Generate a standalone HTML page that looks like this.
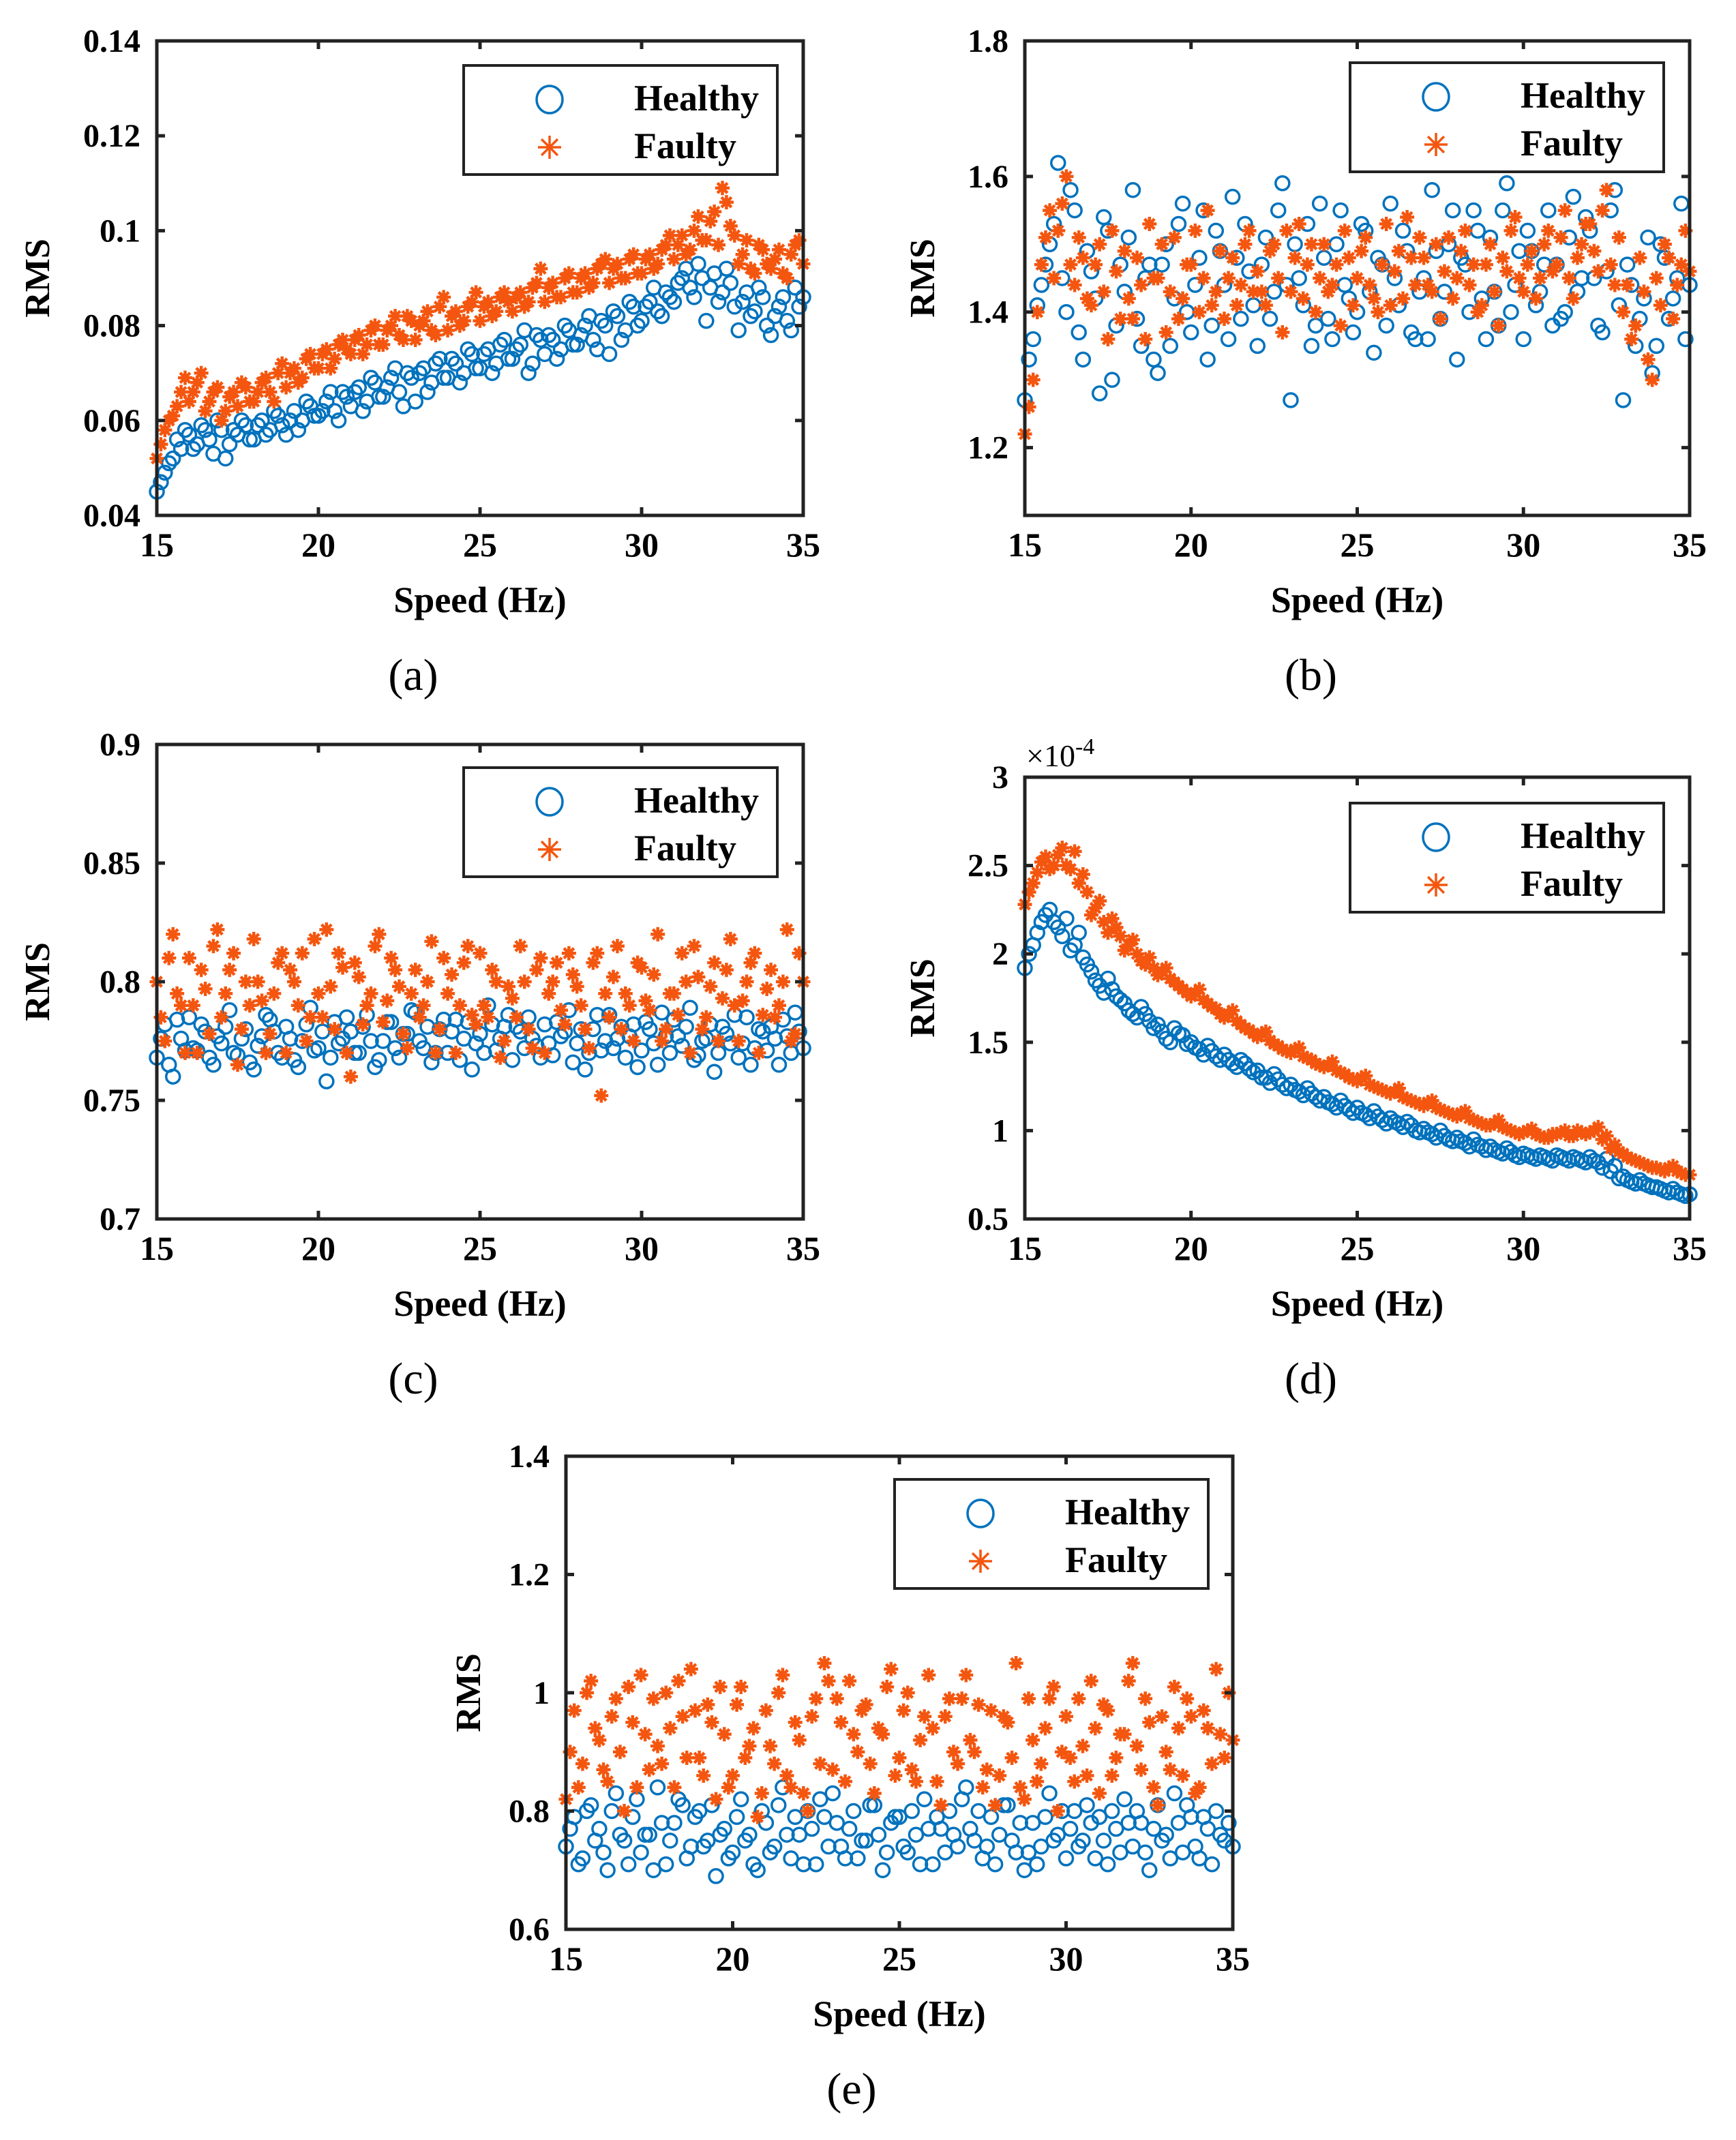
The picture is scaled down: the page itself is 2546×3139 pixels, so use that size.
<!DOCTYPE html>
<html><head><meta charset="utf-8"><style>
html,body{margin:0;padding:0;background:#fff;}
svg{display:block;}
text{font-family:"Liberation Serif",serif;}
</style></head><body>
<svg id="fig" width="2546" height="3139" viewBox="0 0 2546 3139" xmlns="http://www.w3.org/2000/svg"></svg>
<script>
// ---------- data ----------
// pass 1 samples at x = 15 + i*0.25 ; pass 2 samples at x = 15.125 + i*0.25
const speedStart = 15, speedStep = 0.25, speedStart2 = 15.125;
const xTicks = [15,20,25,30,35];

const aTicks = [0.04,0.06,0.08,0.1,0.12,0.14];
const aTickLabels = ["0.04","0.06","0.08","0.1","0.12","0.14"];
const aHealthy = [.045,.049,.052,.054,.057,.055,.058,.053,.058,.055,.057,.059,.056,.060,.058,.061,.057,.062,.060,.063,.061,.064,.062,.066,.063,.067,.064,.068,.065,.069,.066,.070,.064,.071,.068,.073,.069,.072,.070,.074,.071,.075,.072,.077,.073,.076,.070,.078,.074,.077,.075,.079,.076,.080,.077,.081,.074,.082,.079,.084,.081,.085,.083,.087,.085,.090,.088,.093,.081,.091,.087,.089,.079,.087,.083,.086,.078,.084,.081,.088,.086];
const aHealthy2 = [.047,.051,.056,.058,.054,.059,.056,.060,.052,.058,.060,.056,.059,.057,.062,.059,.060,.058,.064,.061,.062,.066,.060,.065,.066,.062,.069,.065,.067,.071,.063,.069,.070,.066,.072,.069,.073,.068,.075,.071,.074,.070,.076,.073,.075,.079,.072,.077,.078,.073,.080,.076,.078,.082,.075,.080,.083,.077,.085,.080,.084,.088,.082,.086,.089,.092,.086,.090,.088,.085,.092,.084,.085,.082,.088,.080,.082,.086,.079,.084];
const aFaulty = [.052,.058,.061,.066,.064,.068,.062,.066,.060,.065,.063,.067,.064,.068,.066,.070,.067,.071,.069,.074,.071,.075,.073,.077,.074,.078,.076,.080,.076,.080,.078,.082,.077,.081,.079,.084,.079,.083,.081,.085,.081,.085,.083,.087,.083,.087,.085,.089,.085,.089,.086,.091,.087,.091,.089,.093,.089,.093,.090,.095,.091,.095,.093,.097,.094,.099,.096,.103,.098,.104,.109,.101,.093,.098,.091,.096,.092,.096,.090,.097,.093];
const aFaulty2 = [.055,.060,.063,.069,.066,.070,.064,.067,.062,.066,.068,.064,.066,.069,.064,.072,.070,.068,.073,.071,.074,.071,.076,.075,.077,.074,.079,.076,.079,.082,.077,.081,.080,.083,.078,.086,.082,.080,.084,.087,.084,.082,.086,.085,.086,.084,.088,.092,.088,.086,.090,.087,.090,.088,.092,.094,.092,.090,.094,.091,.094,.092,.096,.099,.097,.095,.100,.098,.102,.097,.106,.099,.095,.092,.097,.093,.094,.091,.095,.098];

const bTicks = [1.2,1.4,1.6,1.8];
const bTickLabels = ["1.2","1.4","1.6","1.8"];
const bHealthy = [1.27,1.36,1.44,1.50,1.62,1.40,1.55,1.33,1.46,1.28,1.52,1.38,1.43,1.58,1.35,1.47,1.31,1.50,1.42,1.56,1.37,1.48,1.33,1.52,1.44,1.57,1.39,1.46,1.35,1.51,1.43,1.59,1.27,1.45,1.53,1.38,1.48,1.36,1.55,1.42,1.40,1.52,1.34,1.47,1.56,1.41,1.49,1.36,1.45,1.58,1.39,1.50,1.33,1.47,1.55,1.42,1.51,1.38,1.59,1.44,1.36,1.49,1.43,1.55,1.47,1.40,1.57,1.45,1.52,1.38,1.46,1.58,1.27,1.44,1.39,1.51,1.35,1.48,1.42,1.56,1.44];
const bHealthy2 = [1.33,1.41,1.47,1.53,1.45,1.58,1.37,1.49,1.42,1.54,1.30,1.47,1.51,1.39,1.45,1.33,1.47,1.35,1.53,1.40,1.44,1.55,1.38,1.49,1.36,1.48,1.53,1.41,1.47,1.39,1.55,1.44,1.50,1.41,1.35,1.56,1.39,1.50,1.44,1.37,1.53,1.43,1.48,1.38,1.45,1.52,1.37,1.43,1.36,1.49,1.43,1.55,1.48,1.40,1.52,1.36,1.43,1.55,1.40,1.49,1.52,1.41,1.47,1.38,1.39,1.51,1.43,1.54,1.45,1.37,1.55,1.41,1.47,1.35,1.42,1.31,1.50,1.39,1.45,1.36];
const bFaulty = [1.22,1.30,1.47,1.55,1.52,1.60,1.44,1.48,1.41,1.50,1.36,1.46,1.49,1.39,1.44,1.53,1.45,1.37,1.51,1.42,1.47,1.40,1.55,1.43,1.39,1.48,1.44,1.52,1.46,1.41,1.50,1.37,1.43,1.53,1.47,1.40,1.50,1.44,1.38,1.48,1.45,1.51,1.42,1.47,1.41,1.49,1.54,1.44,1.48,1.43,1.39,1.51,1.45,1.52,1.47,1.41,1.50,1.38,1.46,1.54,1.43,1.49,1.45,1.52,1.47,1.55,1.42,1.50,1.53,1.46,1.58,1.44,1.40,1.36,1.48,1.33,1.45,1.50,1.39,1.47,1.46];
const bFaulty2 = [1.26,1.40,1.51,1.45,1.56,1.47,1.51,1.42,1.47,1.43,1.52,1.39,1.42,1.48,1.36,1.45,1.50,1.43,1.39,1.47,1.52,1.45,1.41,1.49,1.45,1.41,1.50,1.43,1.43,1.49,1.45,1.52,1.48,1.42,1.50,1.45,1.43,1.47,1.52,1.41,1.49,1.44,1.40,1.53,1.46,1.42,1.48,1.51,1.44,1.50,1.46,1.42,1.49,1.44,1.40,1.47,1.43,1.48,1.52,1.45,1.47,1.42,1.50,1.46,1.51,1.45,1.48,1.53,1.49,1.55,1.47,1.51,1.44,1.38,1.43,1.30,1.41,1.48,1.44,1.52];

const cTicks = [0.7,0.75,0.8,0.85,0.9];
const cTickLabels = ["0.7","0.75","0.8","0.85","0.9"];
const cHealthy = [.768,.782,.760,.776,.785,.771,.779,.765,.774,.788,.769,.780,.763,.777,.784,.770,.781,.767,.775,.789,.772,.758,.783,.776,.779,.770,.786,.764,.775,.783,.768,.778,.787,.772,.766,.780,.770,.784,.776,.763,.778,.790,.771,.781,.767,.779,.785,.773,.782,.769,.777,.788,.774,.763,.780,.771,.786,.776,.768,.782,.771,.780,.765,.777,.784,.773,.789,.769,.776,.762,.781,.774,.768,.785,.772,.779,.781,.765,.777,.787,.772];
const cHealthy2 = [.776,.765,.784,.771,.772,.782,.768,.777,.781,.770,.776,.766,.773,.786,.779,.768,.776,.764,.782,.771,.779,.768,.774,.785,.770,.781,.775,.767,.783,.772,.778,.788,.775,.781,.770,.784,.779,.767,.783,.774,.770,.782,.776,.786,.781,.772,.776,.768,.774,.783,.779,.766,.780,.770,.786,.775,.772,.781,.777,.764,.783,.774,.787,.770,.777,.781,.767,.775,.782,.770,.778,.786,.774,.765,.780,.771,.776,.784,.770,.779];
const cFaulty = [.800,.775,.820,.790,.810,.770,.797,.815,.785,.805,.765,.800,.818,.792,.778,.808,.770,.800,.812,.785,.795,.822,.780,.806,.760,.802,.790,.815,.783,.810,.798,.772,.805,.790,.817,.780,.795,.770,.808,.786,.812,.785,.800,.775,.793,.815,.780,.805,.770,.800,.788,.812,.798,.780,.808,.752,.785,.815,.795,.775,.806,.788,.820,.780,.795,.812,.770,.802,.785,.808,.793,.818,.775,.800,.812,.786,.805,.790,.822,.778,.800];
const cFaulty2 = [.785,.810,.795,.770,.790,.805,.778,.822,.795,.812,.780,.790,.800,.770,.795,.812,.805,.790,.775,.818,.785,.798,.812,.770,.808,.782,.795,.820,.792,.805,.778,.795,.785,.800,.770,.810,.803,.790,.815,.782,.790,.805,.768,.798,.785,.800,.772,.810,.795,.808,.782,.803,.790,.772,.812,.795,.802,.780,.790,.808,.792,.803,.775,.795,.786,.800,.815,.780,.798,.775,.805,.790,.792,.808,.770,.797,.785,.800,.775,.812];

const dTicks = [0.5,1,1.5,2,2.5,3];
const dTickLabels = ["0.5","1","1.5","2","2.5","3"];
const dHealthy = [1.92,2.05,2.18,2.25,2.15,2.20,2.05,1.98,1.90,1.82,1.86,1.76,1.72,1.66,1.70,1.62,1.60,1.52,1.58,1.54,1.50,1.46,1.48,1.42,1.43,1.38,1.40,1.35,1.34,1.30,1.32,1.26,1.26,1.22,1.24,1.19,1.19,1.15,1.17,1.12,1.13,1.09,1.11,1.06,1.07,1.04,1.05,1.00,1.01,0.98,1.00,0.95,0.96,0.93,0.95,0.91,0.91,0.88,0.90,0.86,0.87,0.85,0.86,0.84,0.86,0.84,0.85,0.83,0.85,0.82,0.84,0.80,0.74,0.71,0.72,0.69,0.68,0.66,0.67,0.64,0.64];
const dHealthy2 = [2.00,2.12,2.22,2.18,2.10,2.02,2.12,1.94,1.85,1.78,1.80,1.74,1.68,1.64,1.66,1.58,1.56,1.50,1.55,1.49,1.47,1.43,1.45,1.40,1.40,1.36,1.38,1.33,1.30,1.27,1.29,1.24,1.23,1.20,1.21,1.17,1.16,1.13,1.14,1.10,1.10,1.07,1.08,1.04,1.05,1.02,1.03,0.99,0.99,0.96,0.97,0.94,0.94,0.91,0.92,0.89,0.89,0.87,0.88,0.85,0.86,0.84,0.85,0.83,0.85,0.83,0.84,0.82,0.83,0.79,0.77,0.73,0.72,0.70,0.70,0.68,0.67,0.65,0.65,0.63];
const dFaulty = [2.28,2.40,2.52,2.48,2.56,2.50,2.58,2.45,2.22,2.30,2.12,2.15,2.02,2.08,1.96,1.98,1.88,1.92,1.84,1.80,1.76,1.80,1.72,1.69,1.64,1.68,1.60,1.57,1.53,1.56,1.49,1.46,1.44,1.47,1.41,1.38,1.36,1.39,1.33,1.30,1.28,1.31,1.25,1.23,1.21,1.24,1.18,1.16,1.14,1.17,1.12,1.10,1.08,1.11,1.06,1.04,1.03,1.06,1.01,0.99,0.99,1.01,0.97,0.96,0.98,1.00,0.97,0.99,0.99,1.02,0.97,0.92,0.87,0.84,0.82,0.80,0.79,0.77,0.80,0.76,0.75];
const dFaulty2 = [2.35,2.46,2.55,2.50,2.60,2.48,2.40,2.35,2.26,2.18,2.20,2.10,2.05,2.00,1.94,1.92,1.90,1.86,1.82,1.78,1.78,1.74,1.70,1.66,1.66,1.62,1.58,1.55,1.55,1.51,1.48,1.45,1.46,1.42,1.40,1.37,1.37,1.34,1.32,1.29,1.30,1.26,1.24,1.22,1.22,1.19,1.17,1.15,1.16,1.13,1.11,1.09,1.10,1.07,1.05,1.03,1.04,1.02,1.00,0.98,1.00,0.98,0.96,0.98,0.99,0.97,1.00,0.98,1.00,0.95,0.90,0.88,0.85,0.83,0.81,0.79,0.78,0.79,0.77,0.75];

const eTicks = [0.6,0.8,1,1.2,1.4];
const eTickLabels = ["0.6","0.8","1","1.2","1.4"];
const eHealthy = [.74,.79,.72,.81,.77,.70,.83,.75,.79,.73,.76,.84,.71,.78,.81,.74,.80,.75,.69,.77,.73,.82,.76,.70,.78,.74,.84,.72,.76,.80,.71,.79,.83,.74,.77,.72,.75,.81,.70,.78,.79,.73,.76,.82,.71,.77,.80,.74,.84,.75,.72,.79,.76,.81,.73,.70,.78,.74,.83,.76,.72,.80,.75,.78,.79,.71,.77,.82,.74,.78,.70,.81,.76,.83,.73,.79,.72,.77,.80,.75,.74];
const eHealthy2 = [.77,.71,.80,.75,.73,.80,.76,.71,.82,.76,.70,.78,.75,.82,.72,.79,.74,.81,.76,.72,.79,.75,.71,.80,.73,.81,.76,.79,.71,.77,.82,.74,.78,.72,.80,.75,.81,.76,.73,.79,.74,.80,.71,.77,.79,.73,.76,.82,.77,.80,.74,.71,.81,.75,.78,.73,.71,.79,.75,.80,.77,.74,.81,.72,.75,.80,.73,.78,.80,.73,.77,.75,.72,.78,.81,.74,.79,.71,.76,.78];
const eFaulty = [.82,.97,.88,1.02,.92,.85,.99,.80,.95,1.03,.87,.91,1.00,.84,.96,1.04,.89,.98,.82,.93,.86,1.01,.91,.79,.97,.88,1.03,.84,.92,.80,.99,1.05,.87,.95,1.02,.90,.98,.83,.93,1.04,.89,1.00,.85,.96,.94,.81,.99,.88,1.03,.90,.84,.97,.86,.95,1.05,.82,.92,.88,.99,.80,.96,.85,.91,1.02,.83,.97,.89,.93,1.05,.87,.95,.81,.90,1.01,.86,.96,.84,.94,1.04,.89,.92];
const eFaulty2 = [.90,.84,1.00,.94,.87,.96,.90,1.01,.84,.93,.99,.88,.94,1.02,.89,.97,.86,.95,1.01,.84,.98,.89,.94,.83,.91,1.00,.86,.95,.83,.96,.88,1.02,.99,.85,.93,.97,.88,.94,1.01,.86,.97,.87,.92,1.03,.85,.96,.90,.99,.92,.98,.87,.81,.96,.89,.84,.99,.85,.94,1.01,.90,.89,.99,.86,.94,.98,.86,.93,1.02,.91,.99,.84,.96,.87,.94,.99,.83,.97,.88,.93,1.00];

// ---------- drawing ----------
const NS = "http://www.w3.org/2000/svg";
const svg = document.getElementById('fig');
const BLUE = "#0072BD", ORANGE = "#F4560F";
function mk(tag, attrs, parent){
  const e = document.createElementNS(NS, tag);
  for (const k in attrs) e.setAttribute(k, attrs[k]);
  (parent||svg).appendChild(e);
  return e;
}
function txt(parent, x, y, s, size, anchor, weight){
  const t = mk('text', {x:x, y:y, 'font-size':size, 'text-anchor':anchor||'middle', 'font-weight':weight||'bold', fill:'#000'}, parent);
  t.textContent = s;
  return t;
}
function circle(g, x, y){
  const c = mk('circle', {cx:x, cy:y, r:10, fill:'none', stroke:BLUE, 'stroke-width':3.5}, g);
  
  
}
function star(g, x, y){
  const r = 10.5;
  const d = `M${x-r},${y}H${x+r}M${x},${y-r}V${y+r}M${x-r*0.7},${y-r*0.7}L${x+r*0.7},${y+r*0.7}M${x-r*0.7},${y+r*0.7}L${x+r*0.7},${y-r*0.7}`;
  const p = mk('path', {d:d, stroke:ORANGE, 'stroke-width':4.5, fill:'none'}, g);
  
  
}

function panel(cfg){
  const {id, L, R, T, B, ymin, ymax, yTicks, yLabels, healthy, healthy2, faulty, faulty2, leg, cap, capY, rmsX, mult} = cfg;
  const g = mk('g', {});
  
  
  const sx = v => L + (v - 15) / 20 * (R - L);
  const sy = v => B - (v - ymin) / (ymax - ymin) * (B - T);

  const pts = mk('g', {}, g);
  
  
  healthy.forEach((v, i) => circle(pts, sx(speedStart + i*speedStep), sy(v)));
  healthy2.forEach((v, i) => circle(pts, sx(speedStart2 + i*speedStep), sy(v)));
  faulty.forEach((v, i) => star(pts, sx(speedStart + i*speedStep), sy(v)));
  faulty2.forEach((v, i) => star(pts, sx(speedStart2 + i*speedStep), sy(v)));

  const box = mk('rect', {x:L, y:T, width:R-L, height:B-T, fill:'none', stroke:'#222', 'stroke-width':5}, g);
  
  
  xTicks.forEach(v => {
    const x = sx(v);
    mk('line', {x1:x, y1:B, x2:x, y2:B-12, stroke:'#222', 'stroke-width':5}, g);
    mk('line', {x1:x, y1:T, x2:x, y2:T+12, stroke:'#222', 'stroke-width':5}, g);
    const t = txt(g, x, B+60, String(v), 50);
    
    
  });
  yTicks.forEach((v, i) => {
    const y = sy(v);
    mk('line', {x1:L, y1:y, x2:L+12, y2:y, stroke:'#222', 'stroke-width':5}, g);
    mk('line', {x1:R, y1:y, x2:R-12, y2:y, stroke:'#222', 'stroke-width':5}, g);
    const t = txt(g, L-24, y+16, yLabels[i], 48, 'end');
    
    
  });
  const xl = txt(g, (L+R)/2, B+142, 'Speed (Hz)', 54);
  
  
  const yl = txt(g, 0, 0, 'RMS', 52);
  yl.setAttribute('transform', `translate(${rmsX},${(T+B)/2}) rotate(-90)`);
  
  
  if (mult){
    const m = mk('text', {x:L+2, y:T-16, 'font-size':46, fill:'#000'}, g);
    m.innerHTML = '×10<tspan dy="-18" font-size="34">-4</tspan>';
    
    
  }
  const lg = mk('g', {}, g);
  
  
  mk('rect', {x:leg[0], y:leg[1], width:460, height:160, fill:'#fff', stroke:'#222', 'stroke-width':4}, lg);
  const c = mk('ellipse', {cx:leg[0]+126, cy:leg[1]+50, rx:19, ry:20, fill:'none', stroke:BLUE, 'stroke-width':3.5}, lg);
  
  
  const r = 17, x0 = leg[0]+126, y0 = leg[1]+120;
  const sp = mk('path', {d:`M${x0-r},${y0}H${x0+r}M${x0},${y0-r}V${y0+r}M${x0-r*0.7},${y0-r*0.7}L${x0+r*0.7},${y0+r*0.7}M${x0-r*0.7},${y0+r*0.7}L${x0+r*0.7},${y0-r*0.7}`, stroke:ORANGE, 'stroke-width':3.5, fill:'none'}, lg);
  
  
  const t1 = txt(lg, leg[0]+250, leg[1]+66, 'Healthy', 54, 'start');
  
  
  const t2 = txt(lg, leg[0]+250, leg[1]+136, 'Faulty', 54, 'start');
  
  
  const cp = txt(g, (L+R)/2 - 10 + cfg.capDx, capY, cap, 66, 'middle', 'normal');
  
  
}

panel({id:'a', L:230, R:1178, T:60, B:756, ymin:0.04, ymax:0.14, yTicks:aTicks, yLabels:aTickLabels, healthy:aHealthy, healthy2:aHealthy2, faulty:aFaulty, faulty2:aFaulty2, leg:[680,96], cap:'(a)', capY:1012, capDx:-88, rmsX:72});
panel({id:'b', L:1503, R:2478, T:60, B:756, ymin:1.1, ymax:1.8, yTicks:bTicks, yLabels:bTickLabels, healthy:bHealthy, healthy2:bHealthy2, faulty:bFaulty, faulty2:bFaulty2, leg:[1980,92], cap:'(b)', capY:1012, capDx:-58, rmsX:1370});
panel({id:'c', L:230, R:1178, T:1092, B:1788, ymin:0.7, ymax:0.9, yTicks:cTicks, yLabels:cTickLabels, healthy:cHealthy, healthy2:cHealthy2, faulty:cFaulty, faulty2:cFaulty2, leg:[680,1126], cap:'(c)', capY:2044, capDx:-88, rmsX:72});
panel({id:'d', L:1503, R:2478, T:1140, B:1788, ymin:0.5, ymax:3, yTicks:dTicks, yLabels:dTickLabels, healthy:dHealthy, healthy2:dHealthy2, faulty:dFaulty, faulty2:dFaulty2, leg:[1980,1178], cap:'(d)', capY:2044, capDx:-58, rmsX:1370, mult:true});
panel({id:'e', L:830, R:1808, T:2136, B:2830, ymin:0.6, ymax:1.4, yTicks:eTicks, yLabels:eTickLabels, healthy:eHealthy, healthy2:eHealthy2, faulty:eFaulty, faulty2:eFaulty2, leg:[1312,2170], cap:'(e)', capY:3086, capDx:-60, rmsX:704});
</script>
</body></html>
